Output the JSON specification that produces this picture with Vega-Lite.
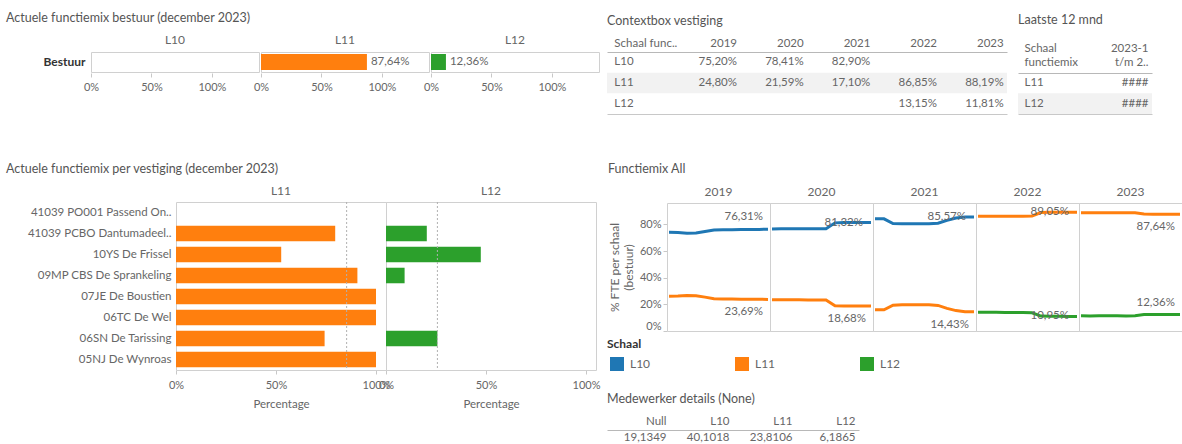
{
  "$schema": "https://vega.github.io/schema/vega-lite/v6.json",
  "padding": {"left": 5, "top": 11, "right": 0, "bottom": 0},
  "columns": 2,
  "spacing": 7,
  "resolve": {"scale": {"color": "independent"}, "legend": {"color": "independent"}},
  "concat": [
    {
      "columns": 1,
      "spacing": 70,
      "resolve": {"scale": {"color": "independent"}, "legend": {"color": "independent"}},
      "concat": [
        {"columns": 2, "spacing": 0, "concat": [
          {"width": 1, "height": 1, "view": {"stroke": null}, "data": {"values": []}, "mark": "point"},
          {
            "title": {"text": "Actuele functiemix bestuur (december 2023)", "offset": 10},
            "data": {"name": "bestuur"},
            "facet": {"column": {"field": "Schaal", "type": "nominal", "header": {"title": null}}},
            "spacing": 0,
            "spec": {
              "width": 168,
              "height": 20,
              "encoding": {
                "y": {"field": "Groep", "type": "nominal", "axis": {"title": null, "ticks": false, "domain": false, "labelFontWeight": "bold", "labelColor": "#333", "labelFontSize": 12, "labelPadding": 5, "minExtent": 84, "maxExtent": 84}},
                "x": {"field": "Percentage", "type": "quantitative", "scale": {"domain": [0, 1.39], "nice": false}, "axis": {"values": [0, 0.5, 1], "format": ".0%", "title": null, "domain": false, "tickSize": 4, "labelPadding": 4, "labelFlush": false}}
              },
              "layer": [
                {"mark": {"type": "bar", "size": 16}, "encoding": {"color": {"field": "Schaal", "type": "nominal", "scale": {"domain": ["L10", "L11", "L12"], "range": ["#1f77b4", "#ff7f0e", "#2ca02c"]}, "legend": null}}},
                {"transform": [{"filter": "datum.Percentage > 0"}], "mark": {"type": "text", "align": "left", "dx": 4}, "encoding": {"text": {"field": "Percentage", "type": "quantitative", "format": ".2%"}}}
              ]
            }
          }
        ]},
        {"columns": 2, "spacing": 0, "concat": [
          {"width": 1, "height": 1, "view": {"stroke": null}, "data": {"values": []}, "mark": "point"},
          {
            "title": {"text": "Actuele functiemix per vestiging (december 2023)", "offset": 10},
            "data": {"name": "vestiging"},
            "facet": {"column": {"field": "Schaal", "type": "nominal", "header": {"title": null}}},
            "spacing": 0,
            "bounds": "flush",
            "spec": {
              "width": 210,
              "height": 168,
              "encoding": {
                "x": {"field": "Percentage", "type": "quantitative", "scale": {"domain": [0, 1.05], "nice": false}, "axis": {"values": [0, 0.5, 1], "format": ".0%", "title": "Percentage", "domain": false, "tickSize": 4, "labelPadding": 5, "labelFlush": false, "titlePadding": 8}}
              },
              "layer": [
                {"mark": {"type": "bar"}, "encoding": {
                  "y": {"field": "Vestiging", "type": "nominal", "scale": {"domain": ["41039 PO001 Passend On..", "41039 PCBO Dantumadeel..", "10YS De Frissel", "09MP CBS De Sprankeling", "07JE De Boustien", "06TC De Wel", "06SN De Tarissing", "05NJ De Wynroas"], "paddingInner": 0.26, "paddingOuter": 0.13}, "axis": {"title": null, "ticks": false, "domain": false, "labelPadding": 5, "labelFontSize": 11.5, "minExtent": 170, "maxExtent": 170}},
                  "color": {"field": "Schaal", "type": "nominal", "scale": {"domain": ["L10", "L11", "L12"], "range": ["#1f77b4", "#ff7f0e", "#2ca02c"]}, "legend": null}}},
                {"mark": {"type": "rule", "strokeDash": [2, 2], "color": "#b0b0b0", "strokeWidth": 1}, "encoding": {"x": {"aggregate": "mean", "field": "Percentage", "type": "quantitative"}}}
              ]
            }
          }
        ]}
      ]
    },
    {
      "columns": 1,
      "spacing": 48,
      "resolve": {"scale": {"color": "independent"}, "legend": {"color": "independent"}},
      "concat": [
        {
          "columns": 2,
          "spacing": 11,
          "concat": [
            {
              "title": {"text": "Contextbox vestiging", "offset": 10, "frame": "group"},
              "data": {"name": "context"},
              "width": 400,
              "height": 62,
              "view": {"stroke": null},
              "resolve": {"axis": {"x": "independent"}},
              "layer": [
                {"transform": [{"filter": "datum.Schaal == 'L11'"}, {"aggregate": [{"op": "count", "as": "n"}], "groupby": ["Schaal"]}], "mark": {"type": "rect", "color": "#f2f2f2"}, "encoding": {"y": {"field": "Schaal", "type": "nominal", "scale": {"type": "band", "domain": ["L10", "L11", "L12"], "padding": 0}, "axis": null}}},
                {"transform": [{"aggregate": [{"op": "count", "as": "n"}], "groupby": ["Schaal"]}], "mark": {"type": "text", "align": "left", "dx": -26}, "encoding": {
                  "y": {"field": "Schaal", "type": "nominal", "axis": null},
                  "x": {"datum": "Schaal func..", "type": "nominal", "axis": {"orient": "bottom", "labels": false, "ticks": false, "title": null, "domainColor": "#c8c8c8"}},
                  "text": {"field": "Schaal"}}},
                {"mark": {"type": "text", "align": "right", "dx": 30}, "encoding": {
                  "y": {"field": "Schaal", "type": "nominal", "axis": null},
                  "x": {"field": "Jaar", "type": "nominal", "scale": {"type": "band", "domain": ["Schaal func..", "2019", "2020", "2021", "2022", "2023"], "padding": 0}, "axis": {"orient": "top", "title": null, "ticks": false, "labelAngle": 0, "labelFontSize": 11.5, "labelPadding": 4, "domainColor": "#b8b8b8", "labelAlign": {"condition": {"test": "datum.value == 'Schaal func..'", "value": "left"}, "value": "right"}, "labelOffset": {"condition": {"test": "datum.value == 'Schaal func..'", "value": -26}, "value": 30}}},
                  "text": {"field": "Percentage", "type": "quantitative", "format": ".2%"}}}
              ]
            },
            {
              "title": {"text": "Laatste 12 mnd", "offset": 16, "frame": "group"},
              "data": {"name": "laatste"},
              "width": 134,
              "height": 62,
              "view": {"stroke": null},
              "resolve": {"axis": {"x": "independent"}},
              "layer": [
                {"transform": [{"filter": "datum.Schaal == 'L12'"}], "mark": {"type": "rect", "color": "#f2f2f2"}, "encoding": {"y": {"field": "Schaal", "type": "nominal", "scale": {"type": "band", "domain": [" ", "L11", "L12"], "padding": 0}, "axis": null}}},
                {"mark": {"type": "text", "align": "left", "dx": -27}, "encoding": {
                  "y": {"field": "Schaal", "type": "nominal", "axis": null},
                  "x": {"datum": "Schaal functiemix", "type": "nominal", "axis": {"orient": "bottom", "labels": false, "ticks": false, "title": null, "domainColor": "#c8c8c8"}},
                  "text": {"field": "Schaal"}}},
                {"mark": {"type": "text", "align": "right", "dx": 30}, "encoding": {
                  "y": {"field": "Schaal", "type": "nominal", "axis": null},
                  "x": {"field": "Kolom", "type": "nominal", "scale": {"type": "band", "domain": ["Schaal functiemix", "2023-1 t/m 2.."], "padding": 0}, "axis": {"orient": "top", "offset": -21, "title": null, "ticks": false, "labelAngle": 0, "labelFontSize": 11.5, "labelPadding": 20, "labelLineHeight": 14, "domainColor": "#b8b8b8", "labelExpr": "[slice(datum.value, 0, indexof(datum.value, ' ')), slice(datum.value, indexof(datum.value, ' ') + 1)]", "labelAlign": {"condition": {"test": "datum.value == 'Schaal functiemix'", "value": "left"}, "value": "right"}, "labelOffset": {"condition": {"test": "datum.value == 'Schaal functiemix'", "value": -27}, "value": 30}}},
                  "text": {"field": "Waarde"}}}
              ]
            }
          ]
        },
        {
          "columns": 1,
          "spacing": 20,
          "resolve": {"scale": {"color": "independent"}, "legend": {"color": "independent"}},
          "concat": [
            {
              "columns": 1,
              "spacing": 6,
              "resolve": {"scale": {"color": "independent"}, "legend": {"color": "independent"}},
              "concat": [
                {"columns": 2, "spacing": 0, "concat": [
                  {"width": 1, "height": 1, "view": {"stroke": null}, "data": {"values": []}, "mark": "point"},
                  {
                    "title": {"text": "Functiemix  All", "offset": 11},
                    "data": {"name": "trend"},
                    "facet": {"column": {"field": "Jaar", "type": "ordinal", "header": {"title": null}}},
                    "spacing": 0,
                    "bounds": "flush",
                    "spec": {
                      "width": 103,
                      "height": 128,
                      "encoding": {
                        "x": {"field": "Maand", "type": "quantitative", "scale": {"domain": [1, 12], "nice": false, "padding": 2}, "axis": null},
                        "y": {"field": "Percentage", "type": "quantitative", "scale": {"domain": [0, 0.96], "nice": false}, "axis": {"title": ["% FTE per schaal", "(bestuur)"], "format": ".0%", "values": [0, 0.2, 0.4, 0.6, 0.8], "domain": false, "tickSize": 4, "labelPadding": 2, "labelFlush": true, "titlePadding": 3, "titleFontSize": 12, "minExtent": 29, "maxExtent": 29}}
                      },
                      "layer": [
                        {"mark": {"type": "line", "strokeWidth": 3}, "encoding": {"color": {"field": "Schaal", "type": "nominal", "scale": {"domain": ["L10", "L11", "L12"], "range": ["#1f77b4", "#ff7f0e", "#2ca02c"]}, "legend": null}}},
                        {"transform": [{"filter": "datum.Maand == 12 && ((datum.Schaal == 'L10' && datum.Jaar == 2019) || (datum.Schaal == 'L12' && datum.Jaar == 2023))"}], "mark": {"type": "text", "align": "right", "dx": -5, "dy": -12}, "encoding": {"text": {"field": "Percentage", "type": "quantitative", "format": ".2%"}}},
                        {"transform": [{"filter": "datum.Maand == 12 && ((datum.Schaal == 'L10' && (datum.Jaar == 2020 || datum.Jaar == 2021)) || datum.Jaar == 2022)"}], "mark": {"type": "text", "align": "right", "dx": -8, "dy": 0}, "encoding": {"text": {"field": "Percentage", "type": "quantitative", "format": ".2%"}}},
                        {"transform": [{"filter": "datum.Maand == 12 && datum.Schaal == 'L11' && datum.Jaar != 2022"}], "mark": {"type": "text", "align": "right", "dx": -5, "dy": 13}, "encoding": {"text": {"field": "Percentage", "type": "quantitative", "format": ".2%"}}}
                      ]
                    }
                  }
                ]},
                {
                  "title": {"text": "Schaal", "fontWeight": "bold", "color": "#333333", "fontSize": 12, "frame": "group", "offset": 5},
                  "data": {"name": "trend"},
                  "transform": [{"aggregate": [{"op": "count", "as": "n"}], "groupby": ["Schaal"]}],
                  "width": 270,
                  "height": 16,
                  "view": {"stroke": null},
                  "encoding": {"x": {"field": "Schaal", "type": "nominal", "scale": {"type": "point", "domain": ["L10", "L11", "L12"], "padding": 0.08}, "axis": null}},
                  "layer": [
                    {"mark": {"type": "square", "size": 196, "filled": true, "opacity": 1}, "encoding": {"color": {"field": "Schaal", "type": "nominal", "scale": {"domain": ["L10", "L11", "L12"], "range": ["#1f77b4", "#ff7f0e", "#2ca02c"]}, "legend": null}}},
                    {"mark": {"type": "text", "align": "left", "dx": 13, "fontSize": 12}, "encoding": {"text": {"field": "Schaal"}}}
                  ]
                }
              ]
            },
            {
              "title": {"text": "Medewerker details  (None)", "offset": 10, "frame": "group"},
              "data": {"name": "details"},
              "width": 252,
              "height": 16,
              "view": {"stroke": null},
              "mark": {"type": "text", "align": "right", "dx": 28},
              "encoding": {
                "x": {"field": "Schaal", "type": "nominal", "sort": ["Null", "L10", "L11", "L12"], "scale": {"type": "band", "padding": 0}, "axis": {"orient": "top", "title": null, "ticks": false, "labelAngle": 0, "labelAlign": "right", "labelOffset": 28, "labelFontSize": 11.5, "labelPadding": 4, "domainColor": "#b8b8b8"}},
                "text": {"field": "Waarde", "type": "quantitative", "format": ".4f"}
              }
            }
          ]
        }
      ]
    }
  ],
  "datasets": {
    "bestuur": [
      {"Groep": "Bestuur", "Schaal": "L10", "Percentage": 0},
      {"Groep": "Bestuur", "Schaal": "L11", "Percentage": 0.8764},
      {"Groep": "Bestuur", "Schaal": "L12", "Percentage": 0.1236}
    ],
    "vestiging": [
      {"Vestiging": "41039 PCBO Dantumadeel..", "Schaal": "L11", "Percentage": 0.796},
      {"Vestiging": "41039 PCBO Dantumadeel..", "Schaal": "L12", "Percentage": 0.204},
      {"Vestiging": "10YS De Frissel", "Schaal": "L11", "Percentage": 0.526},
      {"Vestiging": "10YS De Frissel", "Schaal": "L12", "Percentage": 0.474},
      {"Vestiging": "09MP CBS De Sprankeling", "Schaal": "L11", "Percentage": 0.907},
      {"Vestiging": "09MP CBS De Sprankeling", "Schaal": "L12", "Percentage": 0.093},
      {"Vestiging": "07JE De Boustien", "Schaal": "L11", "Percentage": 1.0},
      {"Vestiging": "06TC De Wel", "Schaal": "L11", "Percentage": 1.0},
      {"Vestiging": "06SN De Tarissing", "Schaal": "L11", "Percentage": 0.743},
      {"Vestiging": "06SN De Tarissing", "Schaal": "L12", "Percentage": 0.257},
      {"Vestiging": "05NJ De Wynroas", "Schaal": "L11", "Percentage": 1.0}
    ],
    "context": [
      {"Schaal": "L10", "Jaar": "2019", "Percentage": 0.7520},
      {"Schaal": "L10", "Jaar": "2020", "Percentage": 0.7841},
      {"Schaal": "L10", "Jaar": "2021", "Percentage": 0.8290},
      {"Schaal": "L11", "Jaar": "2019", "Percentage": 0.2480},
      {"Schaal": "L11", "Jaar": "2020", "Percentage": 0.2159},
      {"Schaal": "L11", "Jaar": "2021", "Percentage": 0.1710},
      {"Schaal": "L11", "Jaar": "2022", "Percentage": 0.8685},
      {"Schaal": "L11", "Jaar": "2023", "Percentage": 0.8819},
      {"Schaal": "L12", "Jaar": "2022", "Percentage": 0.1315},
      {"Schaal": "L12", "Jaar": "2023", "Percentage": 0.1181}
    ],
    "laatste": [
      {"Schaal": "L11", "Kolom": "2023-1 t/m 2..", "Waarde": "####"},
      {"Schaal": "L12", "Kolom": "2023-1 t/m 2..", "Waarde": "####"}
    ],
    "details": [
      {"Schaal": "Null", "Waarde": 19.1349},
      {"Schaal": "L10", "Waarde": 40.1018},
      {"Schaal": "L11", "Waarde": 23.8106},
      {"Schaal": "L12", "Waarde": 6.1865}
    ],
    "trend": [
      {"Jaar": 2019, "Maand": 1, "Schaal": "L10", "Percentage": 0.740},
      {"Jaar": 2019, "Maand": 2, "Schaal": "L10", "Percentage": 0.738},
      {"Jaar": 2019, "Maand": 3, "Schaal": "L10", "Percentage": 0.734},
      {"Jaar": 2019, "Maand": 4, "Schaal": "L10", "Percentage": 0.735},
      {"Jaar": 2019, "Maand": 5, "Schaal": "L10", "Percentage": 0.746},
      {"Jaar": 2019, "Maand": 6, "Schaal": "L10", "Percentage": 0.758},
      {"Jaar": 2019, "Maand": 7, "Schaal": "L10", "Percentage": 0.760},
      {"Jaar": 2019, "Maand": 8, "Schaal": "L10", "Percentage": 0.760},
      {"Jaar": 2019, "Maand": 9, "Schaal": "L10", "Percentage": 0.762},
      {"Jaar": 2019, "Maand": 10, "Schaal": "L10", "Percentage": 0.761},
      {"Jaar": 2019, "Maand": 11, "Schaal": "L10", "Percentage": 0.762},
      {"Jaar": 2019, "Maand": 12, "Schaal": "L10", "Percentage": 0.7631},
      {"Jaar": 2019, "Maand": 1, "Schaal": "L11", "Percentage": 0.260},
      {"Jaar": 2019, "Maand": 2, "Schaal": "L11", "Percentage": 0.262},
      {"Jaar": 2019, "Maand": 3, "Schaal": "L11", "Percentage": 0.266},
      {"Jaar": 2019, "Maand": 4, "Schaal": "L11", "Percentage": 0.265},
      {"Jaar": 2019, "Maand": 5, "Schaal": "L11", "Percentage": 0.254},
      {"Jaar": 2019, "Maand": 6, "Schaal": "L11", "Percentage": 0.242},
      {"Jaar": 2019, "Maand": 7, "Schaal": "L11", "Percentage": 0.240},
      {"Jaar": 2019, "Maand": 8, "Schaal": "L11", "Percentage": 0.240},
      {"Jaar": 2019, "Maand": 9, "Schaal": "L11", "Percentage": 0.238},
      {"Jaar": 2019, "Maand": 10, "Schaal": "L11", "Percentage": 0.239},
      {"Jaar": 2019, "Maand": 11, "Schaal": "L11", "Percentage": 0.238},
      {"Jaar": 2019, "Maand": 12, "Schaal": "L11", "Percentage": 0.2369},
      {"Jaar": 2020, "Maand": 1, "Schaal": "L10", "Percentage": 0.765},
      {"Jaar": 2020, "Maand": 2, "Schaal": "L10", "Percentage": 0.766},
      {"Jaar": 2020, "Maand": 3, "Schaal": "L10", "Percentage": 0.766},
      {"Jaar": 2020, "Maand": 4, "Schaal": "L10", "Percentage": 0.766},
      {"Jaar": 2020, "Maand": 5, "Schaal": "L10", "Percentage": 0.767},
      {"Jaar": 2020, "Maand": 6, "Schaal": "L10", "Percentage": 0.767},
      {"Jaar": 2020, "Maand": 7, "Schaal": "L10", "Percentage": 0.767},
      {"Jaar": 2020, "Maand": 8, "Schaal": "L10", "Percentage": 0.811},
      {"Jaar": 2020, "Maand": 9, "Schaal": "L10", "Percentage": 0.813},
      {"Jaar": 2020, "Maand": 10, "Schaal": "L10", "Percentage": 0.813},
      {"Jaar": 2020, "Maand": 11, "Schaal": "L10", "Percentage": 0.813},
      {"Jaar": 2020, "Maand": 12, "Schaal": "L10", "Percentage": 0.8132},
      {"Jaar": 2020, "Maand": 1, "Schaal": "L11", "Percentage": 0.235},
      {"Jaar": 2020, "Maand": 2, "Schaal": "L11", "Percentage": 0.234},
      {"Jaar": 2020, "Maand": 3, "Schaal": "L11", "Percentage": 0.234},
      {"Jaar": 2020, "Maand": 4, "Schaal": "L11", "Percentage": 0.234},
      {"Jaar": 2020, "Maand": 5, "Schaal": "L11", "Percentage": 0.233},
      {"Jaar": 2020, "Maand": 6, "Schaal": "L11", "Percentage": 0.233},
      {"Jaar": 2020, "Maand": 7, "Schaal": "L11", "Percentage": 0.233},
      {"Jaar": 2020, "Maand": 8, "Schaal": "L11", "Percentage": 0.189},
      {"Jaar": 2020, "Maand": 9, "Schaal": "L11", "Percentage": 0.187},
      {"Jaar": 2020, "Maand": 10, "Schaal": "L11", "Percentage": 0.187},
      {"Jaar": 2020, "Maand": 11, "Schaal": "L11", "Percentage": 0.187},
      {"Jaar": 2020, "Maand": 12, "Schaal": "L11", "Percentage": 0.1868},
      {"Jaar": 2021, "Maand": 1, "Schaal": "L10", "Percentage": 0.841},
      {"Jaar": 2021, "Maand": 2, "Schaal": "L10", "Percentage": 0.841},
      {"Jaar": 2021, "Maand": 3, "Schaal": "L10", "Percentage": 0.806},
      {"Jaar": 2021, "Maand": 4, "Schaal": "L10", "Percentage": 0.804},
      {"Jaar": 2021, "Maand": 5, "Schaal": "L10", "Percentage": 0.804},
      {"Jaar": 2021, "Maand": 6, "Schaal": "L10", "Percentage": 0.804},
      {"Jaar": 2021, "Maand": 7, "Schaal": "L10", "Percentage": 0.804},
      {"Jaar": 2021, "Maand": 8, "Schaal": "L10", "Percentage": 0.808},
      {"Jaar": 2021, "Maand": 9, "Schaal": "L10", "Percentage": 0.830},
      {"Jaar": 2021, "Maand": 10, "Schaal": "L10", "Percentage": 0.847},
      {"Jaar": 2021, "Maand": 11, "Schaal": "L10", "Percentage": 0.855},
      {"Jaar": 2021, "Maand": 12, "Schaal": "L10", "Percentage": 0.8557},
      {"Jaar": 2021, "Maand": 1, "Schaal": "L11", "Percentage": 0.159},
      {"Jaar": 2021, "Maand": 2, "Schaal": "L11", "Percentage": 0.159},
      {"Jaar": 2021, "Maand": 3, "Schaal": "L11", "Percentage": 0.194},
      {"Jaar": 2021, "Maand": 4, "Schaal": "L11", "Percentage": 0.196},
      {"Jaar": 2021, "Maand": 5, "Schaal": "L11", "Percentage": 0.196},
      {"Jaar": 2021, "Maand": 6, "Schaal": "L11", "Percentage": 0.196},
      {"Jaar": 2021, "Maand": 7, "Schaal": "L11", "Percentage": 0.196},
      {"Jaar": 2021, "Maand": 8, "Schaal": "L11", "Percentage": 0.192},
      {"Jaar": 2021, "Maand": 9, "Schaal": "L11", "Percentage": 0.170},
      {"Jaar": 2021, "Maand": 10, "Schaal": "L11", "Percentage": 0.153},
      {"Jaar": 2021, "Maand": 11, "Schaal": "L11", "Percentage": 0.145},
      {"Jaar": 2021, "Maand": 12, "Schaal": "L11", "Percentage": 0.1443},
      {"Jaar": 2022, "Maand": 1, "Schaal": "L11", "Percentage": 0.860},
      {"Jaar": 2022, "Maand": 2, "Schaal": "L11", "Percentage": 0.860},
      {"Jaar": 2022, "Maand": 3, "Schaal": "L11", "Percentage": 0.860},
      {"Jaar": 2022, "Maand": 4, "Schaal": "L11", "Percentage": 0.861},
      {"Jaar": 2022, "Maand": 5, "Schaal": "L11", "Percentage": 0.861},
      {"Jaar": 2022, "Maand": 6, "Schaal": "L11", "Percentage": 0.861},
      {"Jaar": 2022, "Maand": 7, "Schaal": "L11", "Percentage": 0.863},
      {"Jaar": 2022, "Maand": 8, "Schaal": "L11", "Percentage": 0.888},
      {"Jaar": 2022, "Maand": 9, "Schaal": "L11", "Percentage": 0.890},
      {"Jaar": 2022, "Maand": 10, "Schaal": "L11", "Percentage": 0.890},
      {"Jaar": 2022, "Maand": 11, "Schaal": "L11", "Percentage": 0.8905},
      {"Jaar": 2022, "Maand": 12, "Schaal": "L11", "Percentage": 0.8905},
      {"Jaar": 2022, "Maand": 1, "Schaal": "L12", "Percentage": 0.140},
      {"Jaar": 2022, "Maand": 2, "Schaal": "L12", "Percentage": 0.140},
      {"Jaar": 2022, "Maand": 3, "Schaal": "L12", "Percentage": 0.140},
      {"Jaar": 2022, "Maand": 4, "Schaal": "L12", "Percentage": 0.139},
      {"Jaar": 2022, "Maand": 5, "Schaal": "L12", "Percentage": 0.139},
      {"Jaar": 2022, "Maand": 6, "Schaal": "L12", "Percentage": 0.139},
      {"Jaar": 2022, "Maand": 7, "Schaal": "L12", "Percentage": 0.137},
      {"Jaar": 2022, "Maand": 8, "Schaal": "L12", "Percentage": 0.112},
      {"Jaar": 2022, "Maand": 9, "Schaal": "L12", "Percentage": 0.110},
      {"Jaar": 2022, "Maand": 10, "Schaal": "L12", "Percentage": 0.110},
      {"Jaar": 2022, "Maand": 11, "Schaal": "L12", "Percentage": 0.1095},
      {"Jaar": 2022, "Maand": 12, "Schaal": "L12", "Percentage": 0.1095},
      {"Jaar": 2023, "Maand": 1, "Schaal": "L11", "Percentage": 0.886},
      {"Jaar": 2023, "Maand": 2, "Schaal": "L11", "Percentage": 0.887},
      {"Jaar": 2023, "Maand": 3, "Schaal": "L11", "Percentage": 0.886},
      {"Jaar": 2023, "Maand": 4, "Schaal": "L11", "Percentage": 0.886},
      {"Jaar": 2023, "Maand": 5, "Schaal": "L11", "Percentage": 0.886},
      {"Jaar": 2023, "Maand": 6, "Schaal": "L11", "Percentage": 0.887},
      {"Jaar": 2023, "Maand": 7, "Schaal": "L11", "Percentage": 0.886},
      {"Jaar": 2023, "Maand": 8, "Schaal": "L11", "Percentage": 0.877},
      {"Jaar": 2023, "Maand": 9, "Schaal": "L11", "Percentage": 0.876},
      {"Jaar": 2023, "Maand": 10, "Schaal": "L11", "Percentage": 0.876},
      {"Jaar": 2023, "Maand": 11, "Schaal": "L11", "Percentage": 0.876},
      {"Jaar": 2023, "Maand": 12, "Schaal": "L11", "Percentage": 0.8764},
      {"Jaar": 2023, "Maand": 1, "Schaal": "L12", "Percentage": 0.114},
      {"Jaar": 2023, "Maand": 2, "Schaal": "L12", "Percentage": 0.113},
      {"Jaar": 2023, "Maand": 3, "Schaal": "L12", "Percentage": 0.114},
      {"Jaar": 2023, "Maand": 4, "Schaal": "L12", "Percentage": 0.114},
      {"Jaar": 2023, "Maand": 5, "Schaal": "L12", "Percentage": 0.114},
      {"Jaar": 2023, "Maand": 6, "Schaal": "L12", "Percentage": 0.113},
      {"Jaar": 2023, "Maand": 7, "Schaal": "L12", "Percentage": 0.114},
      {"Jaar": 2023, "Maand": 8, "Schaal": "L12", "Percentage": 0.123},
      {"Jaar": 2023, "Maand": 9, "Schaal": "L12", "Percentage": 0.124},
      {"Jaar": 2023, "Maand": 10, "Schaal": "L12", "Percentage": 0.124},
      {"Jaar": 2023, "Maand": 11, "Schaal": "L12", "Percentage": 0.124},
      {"Jaar": 2023, "Maand": 12, "Schaal": "L12", "Percentage": 0.1236}
    ]
  },
  "config": {
    "font": "Lato",
    "locale": {"number": {"decimal": ",", "thousands": ".", "grouping": [3], "currency": ["€ ", ""]}},
    "view": {"stroke": "#d0d0d0"},
    "title": {"fontSize": 12.5, "fontWeight": "normal", "color": "#555555", "anchor": "start", "frame": "bounds", "offset": 8},
    "axis": {"labelColor": "#666666", "titleColor": "#666666", "labelFontSize": 11, "titleFontSize": 11.5, "titleFontWeight": "normal", "domainColor": "#c8c8c8", "tickColor": "#c8c8c8", "grid": false},
    "header": {"labelColor": "#666666", "labelFontSize": 12, "labelPadding": 4},
    "text": {"fontSize": 11.5, "color": "#666666"},
    "legend": {"titleFontSize": 12, "titleColor": "#333333", "labelColor": "#666666", "labelFontSize": 12}
  }
}
